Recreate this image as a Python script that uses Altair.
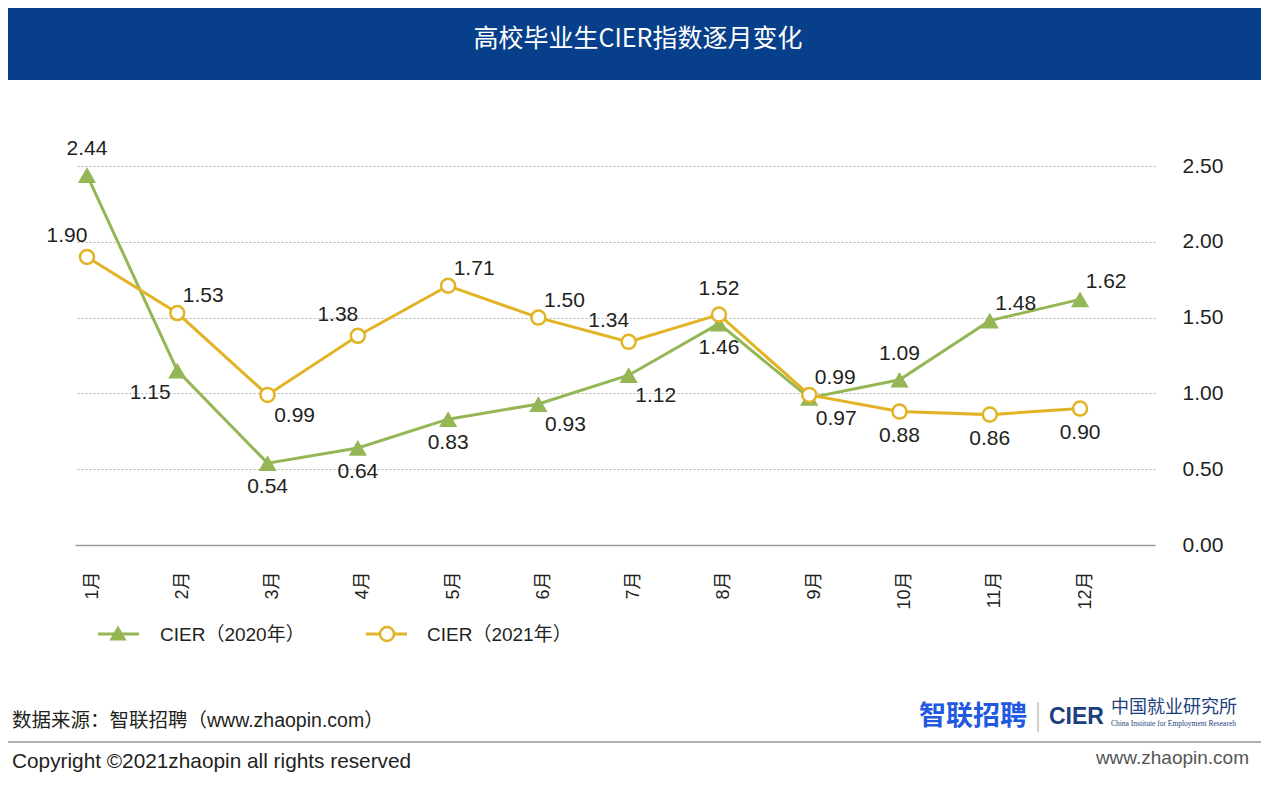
import altair as alt
import pandas as pd

# ---------------- data ----------------
months = ["1月", "2月", "3月", "4月", "5月", "6月", "7月", "8月", "9月", "10月", "11月", "12月"]
cier_2020 = [2.44, 1.15, 0.54, 0.64, 0.83, 0.93, 1.12, 1.46, 0.97, 1.09, 1.48, 1.62]
cier_2021 = [1.90, 1.53, 0.99, 1.38, 1.71, 1.50, 1.34, 1.52, 0.99, 0.88, 0.86, 0.90]
series_names = ["CIER（2020年）", "CIER（2021年）"]
y_ticks = [0.0, 0.5, 1.0, 1.5, 2.0, 2.5]

title_text = "高校毕业生CIER指数逐月变化"
source_text = "数据来源：智联招聘（www.zhaopin.com）"
copyright_text = "Copyright ©2021zhaopin all rights reserved"
site_text = "www.zhaopin.com"
logo_zl = "智联招聘"
logo_cier = "CIER"
logo_cn = "中国就业研究所"
logo_en = "China Institute for Employment Researeh"

# label placement around each point (layout)
place_2020 = ["N", "SW", "S", "S", "S", "SE", "SE", "S", "SE", "N", "NE", "NE"]
place_2021 = ["NW", "NE", "SE", "NW", "NE", "NE", "NW", "N", "NE", "S", "S", "S"]

# ---------------- styling / layout ----------------
GREEN = "#94b655"
YELLOW = "#e2b324"
NAVY = "#073f8b"
TEXT = "#231f20"
FONT = "Liberation Sans, Noto Sans CJK SC, sans-serif"
CJK = "Noto Sans CJK SC, Liberation Sans, sans-serif"

W, H = 1080, 379
PAD_L, PAD_T = 67, 158
TOTAL_W, TOTAL_H = 1253, 775

OFFS = {"N": (0, -26), "S": (0, 24), "NE": (26, -17), "NW": (-20, -21),
        "SE": (27, 21), "SW": (-27, 22)}


def px(x):
    return x - 8 - PAD_L


def py(y):
    return y - 8 - PAD_T


df20 = pd.DataFrame({"i": list(range(12)), "month": months, "v": cier_2020,
                     "place": place_2020, "series": series_names[0]})
df21 = pd.DataFrame({"i": list(range(12)), "month": months, "v": cier_2021,
                     "place": place_2021, "series": series_names[1]})

label_expr = "[" + ",".join("'%s'" % m for m in months) + "][datum.value]"

xenc = alt.X("i:Q",
             scale=alt.Scale(domain=[-0.133, 11.83], nice=False, zero=False),
             axis=alt.Axis(values=list(range(12)), labelExpr=label_expr, labelAngle=270,
                           labelFontSize=18, labelFont=FONT, labelColor=TEXT,
                           labelPadding=26, labelOffset=5, ticks=False, grid=False,
                           domain=True, domainColor="#9a9a9a", domainWidth=1.5,
                           title=None, orient="bottom"))
yenc = alt.Y("v:Q",
             scale=alt.Scale(domain=[0, 2.5], nice=False, zero=True),
             axis=alt.Axis(values=y_ticks, format=".2f", orient="right", grid=True,
                           gridDash=[2, 2], gridColor="#b4b4b4", gridWidth=1,
                           ticks=False, domain=False, labelPadding=27,
                           labelFontSize=21, labelFont=FONT, labelColor=TEXT,
                           labelAlign="left", title=None))

layers = []
layers.append(alt.Chart(df20).mark_line(color=GREEN, strokeWidth=3).encode(x=xenc, y=yenc))
layers.append(alt.Chart(df20).mark_point(shape="triangle-up", filled=True, size=330,
                                         color=GREEN, opacity=1).encode(x=xenc, y=yenc))
layers.append(alt.Chart(df21).mark_line(color=YELLOW, strokeWidth=3).encode(x=xenc, y=yenc))
layers.append(alt.Chart(df21).mark_point(shape="circle", filled=True, size=196, fill="white",
                                         stroke=YELLOW, strokeWidth=2.5, opacity=1)
              .encode(x=xenc, y=yenc))

for key, (dx, dy) in OFFS.items():
    for df in (df20, df21):
        sub = df[df["place"] == key]
        if len(sub):
            layers.append(alt.Chart(sub).mark_text(dx=dx, dy=dy, fontSize=21, font=FONT,
                                                   color=TEXT, baseline="middle", align="center")
                          .encode(x=xenc, y=yenc, text=alt.Text("v:Q", format=".2f")))

one = pd.DataFrame({"k": [0]})


def txt(s, x, y, size, color=TEXT, align="left", weight="normal", font=FONT):
    return alt.Chart(one).mark_text(text=s, align=align, baseline="middle", fontSize=size,
                                    color=color, fontWeight=weight, font=font).encode(
        x=alt.value(px(x)), y=alt.value(py(y)))


def hrule(x1, x2, y, color, width):
    return alt.Chart(one).mark_rule(color=color, strokeWidth=width).encode(
        x=alt.value(px(x1)), x2=alt.value(px(x2)), y=alt.value(py(y)))


# header band and title
layers.append(alt.Chart(one).mark_rect(color=NAVY).encode(
    x=alt.value(px(0)), x2=alt.value(px(1269)), y=alt.value(py(0)), y2=alt.value(py(80))))
layers.append(txt(title_text, 638, 39, 25, color="white", align="center", font=CJK))

# legend
layers.append(hrule(98, 139, 634, GREEN, 3))
layers.append(alt.Chart(one).mark_point(shape="triangle-up", filled=True, size=300, color=GREEN,
                                        opacity=1).encode(x=alt.value(px(118)), y=alt.value(py(633))))
layers.append(txt(series_names[0], 160, 635, 19))
layers.append(hrule(366, 407, 634, YELLOW, 3))
layers.append(alt.Chart(one).mark_point(shape="circle", filled=True, size=196, fill="white",
                                        stroke=YELLOW, strokeWidth=2.5, opacity=1)
              .encode(x=alt.value(px(387)), y=alt.value(py(634))))
layers.append(txt(series_names[1], 427, 635, 19))

# footer
layers.append(txt(source_text, 12, 721, 19.5))
layers.append(hrule(0, 1269, 742, "#b0b0b0", 2))
layers.append(txt(copyright_text, 12, 762, 20.8))
layers.append(txt(site_text, 1249, 758, 19, color="#555555", align="right"))
layers.append(txt(logo_zl, 919, 717, 27, color="#2159e2", weight="bold", font=CJK))
layers.append(alt.Chart(one).mark_rule(color="#c0c0c0", strokeWidth=1.5).encode(
    x=alt.value(px(1038)), y=alt.value(py(702)), y2=alt.value(py(732))))
layers.append(txt(logo_cier, 1049, 717, 23, color="#1e3f7d", weight="bold"))
layers.append(txt(logo_cn, 1111, 708, 18, color="#1e3f7d", font=CJK))
layers.append(txt(logo_en, 1111, 724, 7.5, color="#1e3f7d", font="Liberation Serif, serif"))

chart = alt.layer(*layers).properties(
    width=W, height=H,
    padding={"left": PAD_L, "top": PAD_T, "right": TOTAL_W - PAD_L - W,
             "bottom": TOTAL_H - PAD_T - H},
    autosize=alt.AutoSizeParams(type="none"),
    background="white",
).configure_view(stroke=None)

chart.save("out.html", embed_options={"renderer": "svg", "actions": False})
